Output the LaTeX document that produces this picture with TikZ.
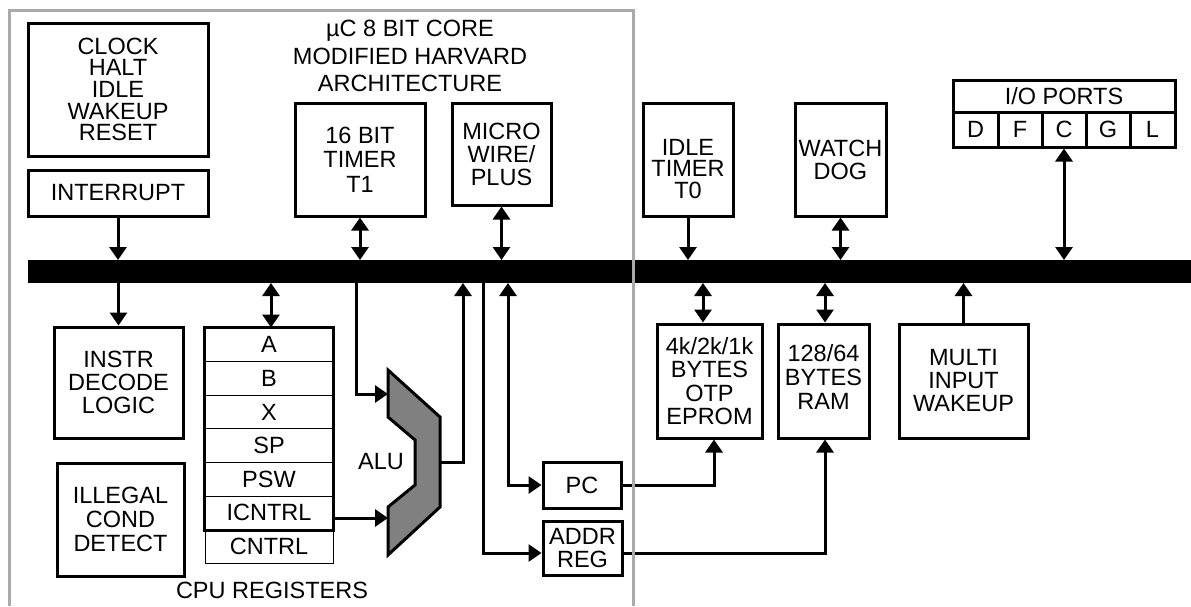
\documentclass[tikz,border=0pt]{standalone}
\usepackage{fontspec}
\setmainfont{Liberation Sans}
\usetikzlibrary{arrows.meta}
\definecolor{framegray}{RGB}{170,170,170}
\definecolor{alugray}{RGB}{128,128,128}
\begin{document}
\begin{tikzpicture}[x=1pt,y=-1pt,
  box/.style={draw,line width=3pt,inner sep=0pt,align=center,font=\fontsize{23.5}{23}\selectfont},
  reg/.style={draw,line width=1pt,inner sep=0pt,minimum width=128pt,minimum height=33.6pt,font=\fontsize{23.5}{23}\selectfont},
  txt/.style={inner sep=0pt,align=center,font=\fontsize{23.5}{23}\selectfont},
  arr/.style={line width=3pt,-{Triangle[length=13pt,width=17pt]}},
  darr/.style={line width=3pt,{Triangle[length=13pt,width=17pt]}-{Triangle[length=13pt,width=17pt]}},
  grayframe/.style={line width=3pt,draw=framegray}]
\useasboundingbox (0,0) rectangle (1191,606);

% title
\node[txt,font=\fontsize{23.5}{27.5}\selectfont] (title) at (410,56) {µC 8 BIT CORE\\MODIFIED HARVARD\\ARCHITECTURE};

% top boxes
\node[box,minimum width=180pt,minimum height=133pt,font=\fontsize{23.5}{21.7}\selectfont] (clock) at (118,89.5) {CLOCK\\HALT\\IDLE\\WAKEUP\\RESET};
\node[box,minimum width=180pt,minimum height=46pt] (intr) at (118,193) {INTERRUPT};
\node[box,minimum width=130pt,minimum height=113pt,font=\fontsize{23.5}{24.7}\selectfont] (t1) at (360,159.5) {16 BIT\\TIMER\\T1};
\node[box,minimum width=99pt,minimum height=102pt] (mw) at (501.5,154) {MICRO\\WIRE/\\PLUS};
\node[box,minimum width=90pt,minimum height=113pt,font=\fontsize{23.5}{21.7}\selectfont] (t0) at (688,159.5) {\raisebox{-15.5pt}[0pt][0pt]{\parbox[c]{88pt}{\centering\baselineskip=21.7pt IDLE\\TIMER\\T0\par}}};
\node[box,minimum width=91pt,minimum height=113pt] (wd) at (840.5,159.5) {WATCH\\DOG};

% I/O ports
\node[box,minimum width=222pt,minimum height=32pt] (io) at (1064,96) {I/O PORTS};
\node[box,minimum width=45pt,minimum height=35pt] (pD) at (975.5,129.5) {D};
\node[box,minimum width=44pt,minimum height=35pt] (pF) at (1020,129.5) {F};
\node[box,minimum width=44pt,minimum height=35pt] (pC) at (1064,129.5) {C};
\node[box,minimum width=44pt,minimum height=35pt] (pG) at (1108,129.5) {G};
\node[box,minimum width=45pt,minimum height=35pt] (pL) at (1152.5,129.5) {L};

% bus
\node[fill=black,inner sep=0pt,outer sep=0pt,minimum width=1163pt,minimum height=23pt,anchor=north west] (bus) at (28,260) {};

% lower-left boxes
\node[box,minimum width=129pt,minimum height=111pt] (instr) at (118.5,382.5) {INSTR\\DECODE\\LOGIC};
\node[box,minimum width=127pt,minimum height=113pt,font=\fontsize{23.5}{24}\selectfont] (illegal) at (120.5,519.5) {ILLEGAL\\COND\\DETECT};

% registers
\foreach \n/\t [count=\i] in {A/A,B/B,X/X,SP/SP,PSW/PSW,IC/ICNTRL,C/CNTRL}
  \node[reg] (r\n) at (269,{328+33.6*\i-16.8}) {\t};
\draw[line width=3pt] (rA.north west) rectangle (rIC.south east);
\node[txt] (cpulbl) at (272,590) {CPU REGISTERS};

% ALU
\coordinate (alu1) at (388,394);
\coordinate (alu2) at (388,518);
\coordinate (aluo) at (440,462);
\draw[line width=3pt,fill=alugray,line join=miter]
  (388,370) -- (440,417) -- (440,507) -- (388,555) -- (388,507) -- (415,485) -- (415,440) -- (388,417) -- cycle;
\node[txt] (alulbl) at (381,462) {ALU};

% PC, ADDR REG
\node[box,minimum width=78pt,minimum height=46pt] (pc) at (582,485) {PC};
\node[box,minimum width=79pt,minimum height=54pt] (addr) at (582.5,548) {ADDR\\REG};

% memories
\node[box,minimum width=105pt,minimum height=114pt,font=\fontsize{23.5}{23.5}\selectfont] (eprom) at (709.5,381) {4k/2k/1k\\BYTES\\OTP\\EPROM};
\node[box,minimum width=91pt,minimum height=114pt,font=\fontsize{23.5}{24}\selectfont] (ram) at (823.5,381) {\raisebox{3pt}{\begin{tabular}{@{}c@{}}128/64\\BYTES\\RAM\end{tabular}}};
\node[box,minimum width=129pt,minimum height=114pt] (miwu) at (963.5,381) {MULTI\\INPUT\\WAKEUP};

% helper coordinates
\coordinate (xr) at (271,0);
\coordinate (xt) at (356,0);
\coordinate (xo) at (463,0);
\coordinate (xa) at (483,0);
\coordinate (xp) at (508,0);
\coordinate (xeb) at (703,0);
\coordinate (xe) at (714,0);
\coordinate (xram) at (825,0);
\coordinate (ya) at (0,553);

% connectors above the bus
\draw[arr] (intr.south) -- (intr.south |- bus.north);
\draw[darr] (t1.south) -- (t1.south |- bus.north);
\draw[darr] (mw.south) -- (mw.south |- bus.north);
\draw[arr] (t0.south) -- (t0.south |- bus.north);
\draw[darr] (wd.south) -- (wd.south |- bus.north);
\draw[darr] (pC.south) -- (pC.south |- bus.north);

% connectors below the bus
\draw[arr] (bus.south -| instr.north) -- (instr.north);
\draw[darr] (bus.south -| xr) -- (rA.north -| xr);
\draw[arr] (bus.south -| xt) |- (alu1);
\draw[arr] (rIC.east |- alu2) -- (alu2);
\draw[arr] (aluo) -| (bus.south -| xo);
\draw[arr] (bus.south -| xa) |- (addr.west |- ya);
\draw[darr] (bus.south -| xp) |- (pc.west);
\draw[arr] (pc.east) -| (eprom.south -| xe);
\draw[darr] (bus.south -| xeb) -- (eprom.north -| xeb);
\draw[darr] (bus.south -| xram) -- (ram.north -| xram);
\draw[arr] (addr.east |- ya) -| (ram.south -| xram);
\draw[arr] (miwu.north) -- (miwu.north |- bus.south);

% gray core frame
\draw[grayframe] (9,606) -- (9,10) -- (633,10) -- (633,606);
\end{tikzpicture}
\end{document}
